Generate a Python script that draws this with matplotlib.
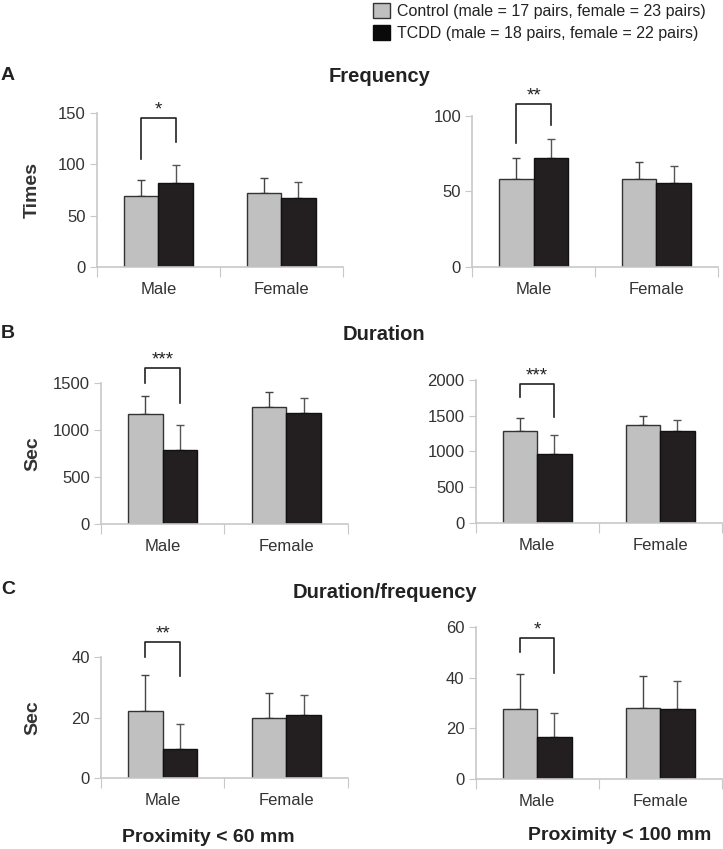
import numpy as np
import matplotlib
matplotlib.use("Agg")
import matplotlib.pyplot as plt
from matplotlib.patches import Patch

plt.rcParams["font.family"] = ["Liberation Sans", "DejaVu Sans"]

# category labels and groups
groups = ["Male", "Female"]
legend_labels = ["Control (male = 17 pairs, female = 23 pairs)",
                 "TCDD (male = 18 pairs, female = 22 pairs)"]

# means and upper error bars, (male, female)
freq60_ctrl = [69, 72]
freq60_ctrl_sd = [16, 15]
freq60_tcdd = [82, 67]
freq60_tcdd_sd = [17, 16]

freq100_ctrl = [58, 58]
freq100_ctrl_sd = [14, 11.5]
freq100_tcdd = [72, 55.5]
freq100_tcdd_sd = [13, 11.5]

dur60_ctrl = [1170, 1245]
dur60_ctrl_sd = [190, 160]
dur60_tcdd = [790, 1180]
dur60_tcdd_sd = [265, 160]

dur100_ctrl = [1290, 1370]
dur100_ctrl_sd = [175, 120]
dur100_tcdd = [970, 1290]
dur100_tcdd_sd = [265, 150]

ratio60_ctrl = [22, 20]
ratio60_ctrl_sd = [12, 8]
ratio60_tcdd = [9.5, 21]
ratio60_tcdd_sd = [8.5, 6.5]

ratio100_ctrl = [27.5, 28]
ratio100_ctrl_sd = [14, 12.5]
ratio100_tcdd = [16.5, 27.5]
ratio100_tcdd_sd = [9.5, 11]

CTRL_COLOR = "#c0c0c0"
TCDD_COLOR = "#231f20"
AXIS_COLOR = "#c8c8c8"
TEXT_COLOR = "#333333"

W, H = 723, 849
fig = plt.figure(figsize=(W / 100, H / 100), dpi=100)


def bar_panel(rect, ctrl, ctrl_sd, tcdd, tcdd_sd, ymax, ystep, ylabel,
              stars, bracket):
    ax = fig.add_axes(rect)
    x = np.array([0.5, 1.5])
    w = 0.28
    ax.bar(x - w / 2, ctrl, w, color=CTRL_COLOR, edgecolor="#333333", lw=1, zorder=2)
    ax.bar(x + w / 2, tcdd, w, color=TCDD_COLOR, edgecolor="#111111", lw=1, zorder=2)
    ax.errorbar(x - w / 2, ctrl, yerr=[np.zeros(2), ctrl_sd], fmt="none",
                ecolor="#444444", elinewidth=1, capsize=3, capthick=1, zorder=1)
    ax.errorbar(x + w / 2, tcdd, yerr=[np.zeros(2), tcdd_sd], fmt="none",
                ecolor="#555555", elinewidth=1, capsize=3, capthick=1, zorder=1)

    # significance bracket over the male pair
    left_bot, right_bot, top = bracket
    bx0, bx1 = x[0] - w / 2, x[0] + w / 2
    ax.plot([bx0, bx0, bx1, bx1], [left_bot, top, top, right_bot],
            color="#222222", lw=1.2, clip_on=False)
    ax.annotate(stars, (x[0], top), xytext=(0, 2.5), textcoords="offset points",
                ha="center", va="baseline", fontsize=13.5, color="#222222",
                annotation_clip=False)

    ax.set_xlim(0, 2)
    ax.set_ylim(0, ymax)
    ax.set_yticks(np.arange(0, ymax + 1, ystep))
    ax.set_xticks([0, 1, 2])
    ax.set_xticklabels([])
    ax.set_xticks(x, minor=True)
    ax.set_xticklabels(groups, minor=True)
    ax.tick_params(axis="x", which="major", length=7, color=AXIS_COLOR)
    ax.tick_params(axis="x", which="minor", length=0, pad=11,
                   labelsize=12, labelcolor=TEXT_COLOR)
    ax.tick_params(axis="y", length=5, color=AXIS_COLOR, labelsize=12,
                   labelcolor=TEXT_COLOR, pad=3)
    for s in ["top", "right"]:
        ax.spines[s].set_visible(False)
    for s in ["left", "bottom"]:
        ax.spines[s].set_color(AXIS_COLOR)
        ax.spines[s].set_linewidth(1.2)
    if ylabel:
        ax.set_ylabel(ylabel, fontsize=14, fontweight="bold", color=TEXT_COLOR)
        # put every y label at the same page position
        left_px = rect[0] * W
        ax.yaxis.set_label_coords((41 - left_px) / (rect[2] * W), 0.5)
    return ax


bar_panel([0.134, 0.6855, 0.340, 0.1814], freq60_ctrl, freq60_ctrl_sd,
          freq60_tcdd, freq60_tcdd_sd, 150, 50, "Times", "*", (105, 122, 145))
bar_panel([0.653, 0.6855, 0.340, 0.178], freq100_ctrl, freq100_ctrl_sd,
          freq100_tcdd, freq100_tcdd_sd, 100, 50, None, "**", (82, 94, 108))
bar_panel([0.1397, 0.3828, 0.3416, 0.166], dur60_ctrl, dur60_ctrl_sd,
          dur60_tcdd, dur60_tcdd_sd, 1500, 500, "Sec", "***", (1500, 1287, 1660))
bar_panel([0.658, 0.384, 0.340, 0.1684], dur100_ctrl, dur100_ctrl_sd,
          dur100_tcdd, dur100_tcdd_sd, 2000, 500, None, "***", (1760, 1480, 1950))
bar_panel([0.1397, 0.0836, 0.3416, 0.1425], ratio60_ctrl, ratio60_ctrl_sd,
          ratio60_tcdd, ratio60_tcdd_sd, 40, 20, "Sec", "**", (40, 33.7, 45))
bar_panel([0.658, 0.0825, 0.340, 0.179], ratio100_ctrl, ratio100_ctrl_sd,
          ratio100_tcdd, ratio100_tcdd_sd, 60, 20, None, "*", (50, 42, 55.5))

# panel letters and section titles
for letter, y in [("A", 75), ("B", 333), ("C", 590)]:
    fig.text(1 / W, 1 - y / H, letter, fontsize=14, fontweight="bold",
             color="#222222", va="center", ha="left")
for title, x, y in [("Frequency", 380, 76), ("Duration", 384, 334),
                    ("Duration/frequency", 385, 592)]:
    fig.text(x / W, 1 - y / H, title, fontsize=14.5, fontweight="bold",
             color="#222222", va="center", ha="center")

fig.text(208 / W, 1 - 837 / H, "Proximity < 60 mm", fontsize=14,
         fontweight="bold", color="#222222", va="center", ha="center")
fig.text(620 / W, 1 - 835 / H, "Proximity < 100 mm", fontsize=14,
         fontweight="bold", color="#222222", va="center", ha="center")

handles = [Patch(facecolor=CTRL_COLOR, edgecolor="#333333", lw=1),
           Patch(facecolor="#0a0a0a", edgecolor="#0a0a0a", lw=1)]
fig.legend(handles, legend_labels, loc="upper left",
           bbox_to_anchor=(367 / W, 1 + 3 / H), frameon=False,
           fontsize=11.5, handlelength=1.05, handleheight=1.05, handletextpad=0.4,
           labelspacing=0.35, labelcolor="#222222", borderaxespad=0.0)

fig.savefig("out.png", dpi=100)
